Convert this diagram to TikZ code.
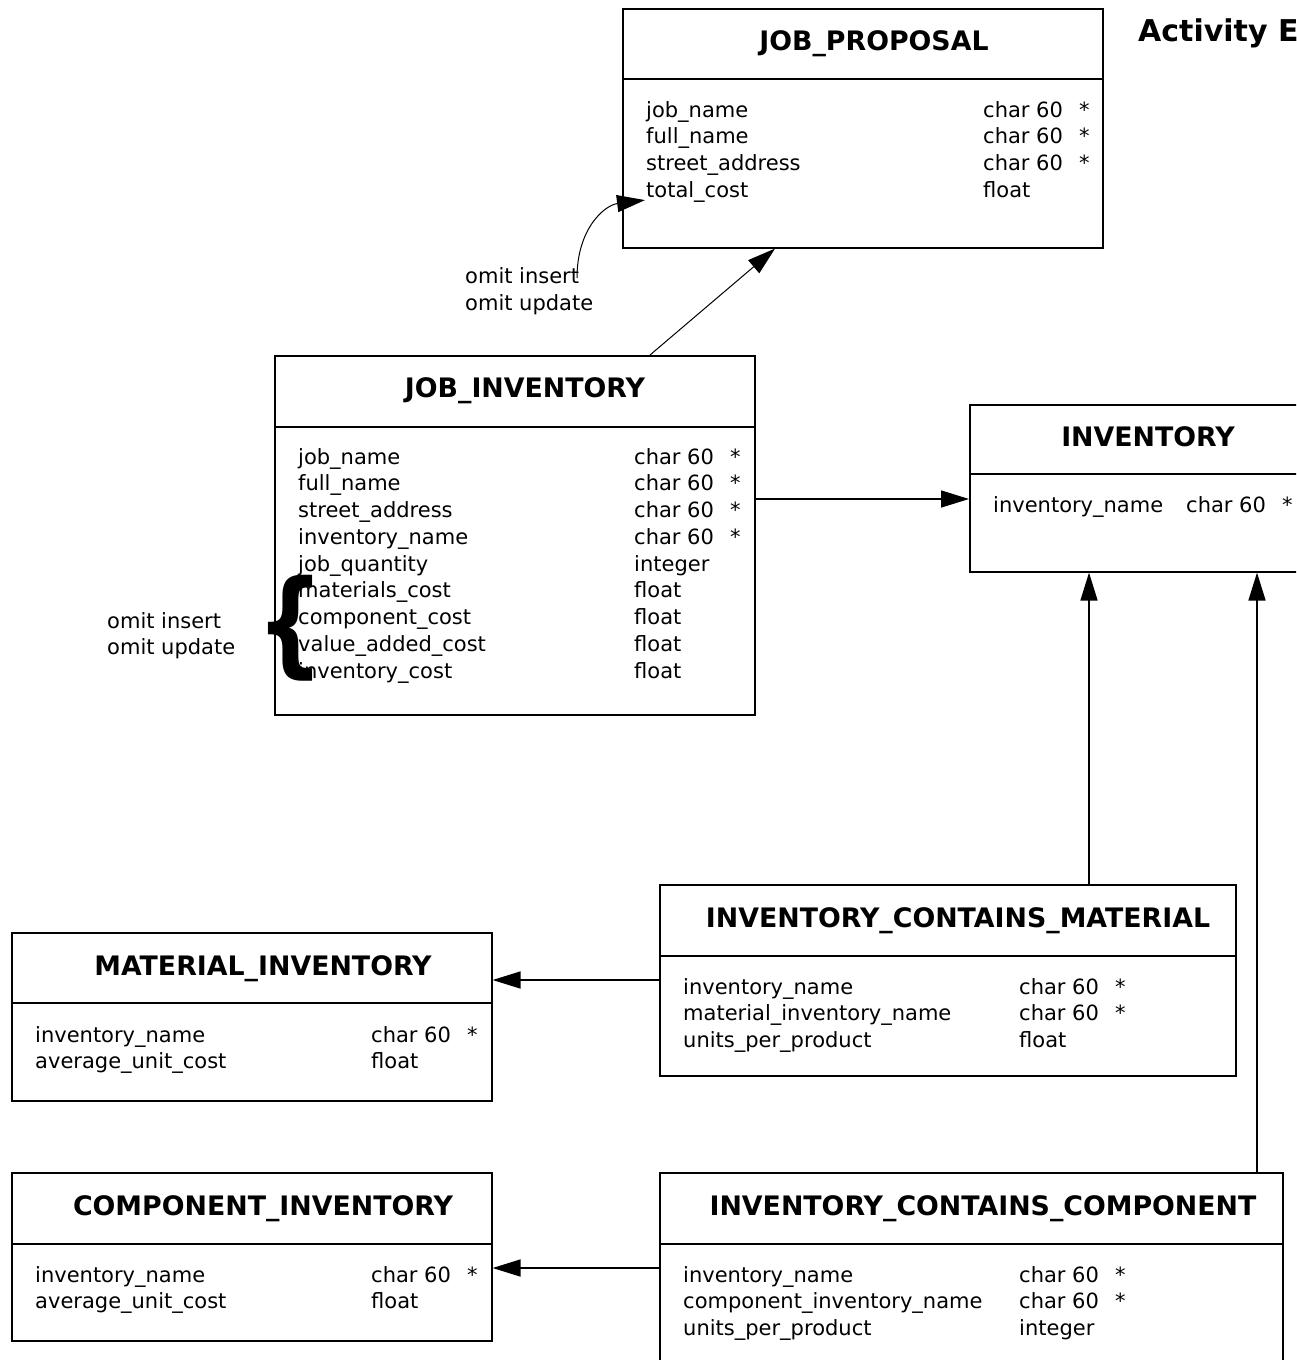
\documentclass[tikz,border=0pt]{standalone}
\usepackage{fontspec}
\setmainfont{DejaVu Sans}
\usepackage{graphicx}
\usetikzlibrary{arrows.meta}
\tikzset{
  ent/.style={draw, line width=1.6pt, inner sep=0, anchor=north west},
  fld/.style={anchor=base west, inner sep=0, font=\fontsize{21}{26.7}\selectfont},
  ttl/.style={anchor=base, inner sep=0, font=\bfseries\fontsize{26.8}{30}\selectfont},
  conn/.style={line width=1.6pt, -{Triangle[length=28pt,width=17pt]}},
  thinconn/.style={line width=1pt, -{Triangle[length=28pt,width=17pt]}},
  divider/.style={line width=1.6pt},
}
\begin{document}
\begin{tikzpicture}[x=1pt,y=-1pt]
\useasboundingbox (0,0) rectangle (1296,1360);
\clip (0,0) rectangle (1296,1360);

% ---------- JOB_PROPOSAL ----------
\node[ent, minimum width=480pt, minimum height=239pt] (jp) at (622,8) {};
\draw[divider] (jp.north west) ++(0,71) -- ++(480,0);
\node[ttl] (jpT) at (874,50) {JOB\_PROPOSAL};
\foreach \t [count=\i] in {job\_name,full\_name,street\_address,total\_cost}
  \node[fld] (jpn\i) at (646,{117+(\i-1)*26.7}) {\t};
\foreach \t [count=\i] in {char 60,char 60,char 60,float}
  \node[fld] (jpt\i) at (983,{117+(\i-1)*26.7}) {\t};
\foreach \i in {1,2,3}
  \node[fld] (jps\i) at (1079,{117+(\i-1)*26.7}) {*};

% ---------- JOB_INVENTORY ----------
\node[ent, minimum width=480pt, minimum height=359pt] (ji) at (274,355) {};
\draw[divider] (ji.north west) ++(0,72) -- ++(480,0);
\node[ttl] (jiT) at (525,397) {JOB\_INVENTORY};
\foreach \t [count=\i] in {job\_name,full\_name,street\_address,inventory\_name,job\_quantity,materials\_cost,component\_cost,value\_added\_cost,inventory\_cost}
  \node[fld] (jin\i) at (298,{464+(\i-1)*26.75}) {\t};
\foreach \t [count=\i] in {char 60,char 60,char 60,char 60,integer,float,float,float,float}
  \node[fld] (jit\i) at (634,{464+(\i-1)*26.75}) {\t};
\foreach \i in {1,2,3,4}
  \node[fld] (jis\i) at (730,{464+(\i-1)*26.75}) {*};
\node[inner sep=0] (brace) at (291,628) {\resizebox*{68pt}{106pt}{\bfseries\{}};

% ---------- INVENTORY ----------
\node[ent, minimum width=358pt, minimum height=167pt] (inv) at (969,404) {};
\draw[divider] (inv.north west) ++(0,70) -- ++(358,0);
\node[ttl] (invT) at (1148,446) {INVENTORY};
\node[fld] (invn1) at (993,512) {inventory\_name};
\node[fld] (invt1) at (1186,512) {char 60};
\node[fld] (invs1) at (1282,512) {*};

% ---------- INVENTORY_CONTAINS_MATERIAL ----------
\node[ent, minimum width=576pt, minimum height=191pt] (icm) at (659,884) {};
\draw[divider] (icm.north west) ++(0,72) -- ++(576,0);
\node[ttl] (icmT) at (958,927) {INVENTORY\_CONTAINS\_MATERIAL};
\foreach \t [count=\i] in {inventory\_name,material\_inventory\_name,units\_per\_product}
  \node[fld] (icmn\i) at (683,{994+(\i-1)*26.7}) {\t};
\foreach \t [count=\i] in {char 60,char 60,float}
  \node[fld] (icmt\i) at (1019,{994+(\i-1)*26.7}) {\t};
\foreach \i in {1,2}
  \node[fld] (icms\i) at (1115,{994+(\i-1)*26.7}) {*};

% ---------- MATERIAL_INVENTORY ----------
\node[ent, minimum width=480pt, minimum height=168pt] (mi) at (11,932) {};
\draw[divider] (mi.north west) ++(0,71) -- ++(480,0);
\node[ttl] (miT) at (263,975) {MATERIAL\_INVENTORY};
\foreach \t [count=\i] in {inventory\_name,average\_unit\_cost}
  \node[fld] (min\i) at (35,{1042+(\i-1)*26.7}) {\t};
\foreach \t [count=\i] in {char 60,float}
  \node[fld] (mit\i) at (371,{1042+(\i-1)*26.7}) {\t};
\node[fld] (mis1) at (467,1042) {*};

% ---------- COMPONENT_INVENTORY ----------
\node[ent, minimum width=480pt, minimum height=168pt] (ci) at (11,1172) {};
\draw[divider] (ci.north west) ++(0,72) -- ++(480,0);
\node[ttl] (ciT) at (263,1215) {COMPONENT\_INVENTORY};
\foreach \t [count=\i] in {inventory\_name,average\_unit\_cost}
  \node[fld] (cin\i) at (35,{1282+(\i-1)*26.7}) {\t};
\foreach \t [count=\i] in {char 60,float}
  \node[fld] (cit\i) at (371,{1282+(\i-1)*26.7}) {\t};
\node[fld] (cis1) at (467,1282) {*};

% ---------- INVENTORY_CONTAINS_COMPONENT ----------
\node[ent, minimum width=623pt, minimum height=240pt] (icc) at (659,1172) {};
\draw[divider] (icc.north west) ++(0,72) -- ++(623,0);
\node[ttl] (iccT) at (983,1215) {INVENTORY\_CONTAINS\_COMPONENT};
\foreach \t [count=\i] in {inventory\_name,component\_inventory\_name,units\_per\_product}
  \node[fld] (iccn\i) at (683,{1282+(\i-1)*26.7}) {\t};
\foreach \t [count=\i] in {char 60,char 60,integer}
  \node[fld] (icct\i) at (1019,{1282+(\i-1)*26.7}) {\t};
\foreach \i in {1,2}
  \node[fld] (iccs\i) at (1115,{1282+(\i-1)*26.7}) {*};

% ---------- labels ----------
\node[fld] (om1a) at (465,283) {omit insert};
\node[fld] (om1b) at (465,310) {omit update};
\node[fld] (om2a) at (107,628) {omit insert};
\node[fld] (om2b) at (107,654) {omit update};
\node[anchor=base west, inner sep=0, font=\bfseries\fontsize{30}{34}\selectfont] (title) at (1138,41) {Activity E};

% ---------- connectors ----------
\draw[thinconn] ([xshift=376pt]ji.north west) -- ([xshift=153pt]jp.south west);
\coordinate (om1top) at ([xshift=112pt,yshift=5pt]om1a.base west);
\draw[thinconn] (om1top) .. controls +(0,-50) and +(-40,5) .. ([xshift=-1pt,yshift=-3pt]jpn4.base west);
\draw[conn] ([yshift=-144pt]ji.north east) -- ([yshift=-95pt]inv.north west);
\draw[conn] ([xshift=430pt]icm.north west) -- ([xshift=120pt]inv.south west);
\draw[conn] ([xshift=598pt]icc.north west) -- ([xshift=288pt]inv.south west);
\draw[conn] ([yshift=-96pt]icm.north west) -- ([yshift=-48pt]mi.north east);
\draw[conn] ([yshift=-96pt]icc.north west) -- ([yshift=-96pt]ci.north east);
\end{tikzpicture}
\end{document}
